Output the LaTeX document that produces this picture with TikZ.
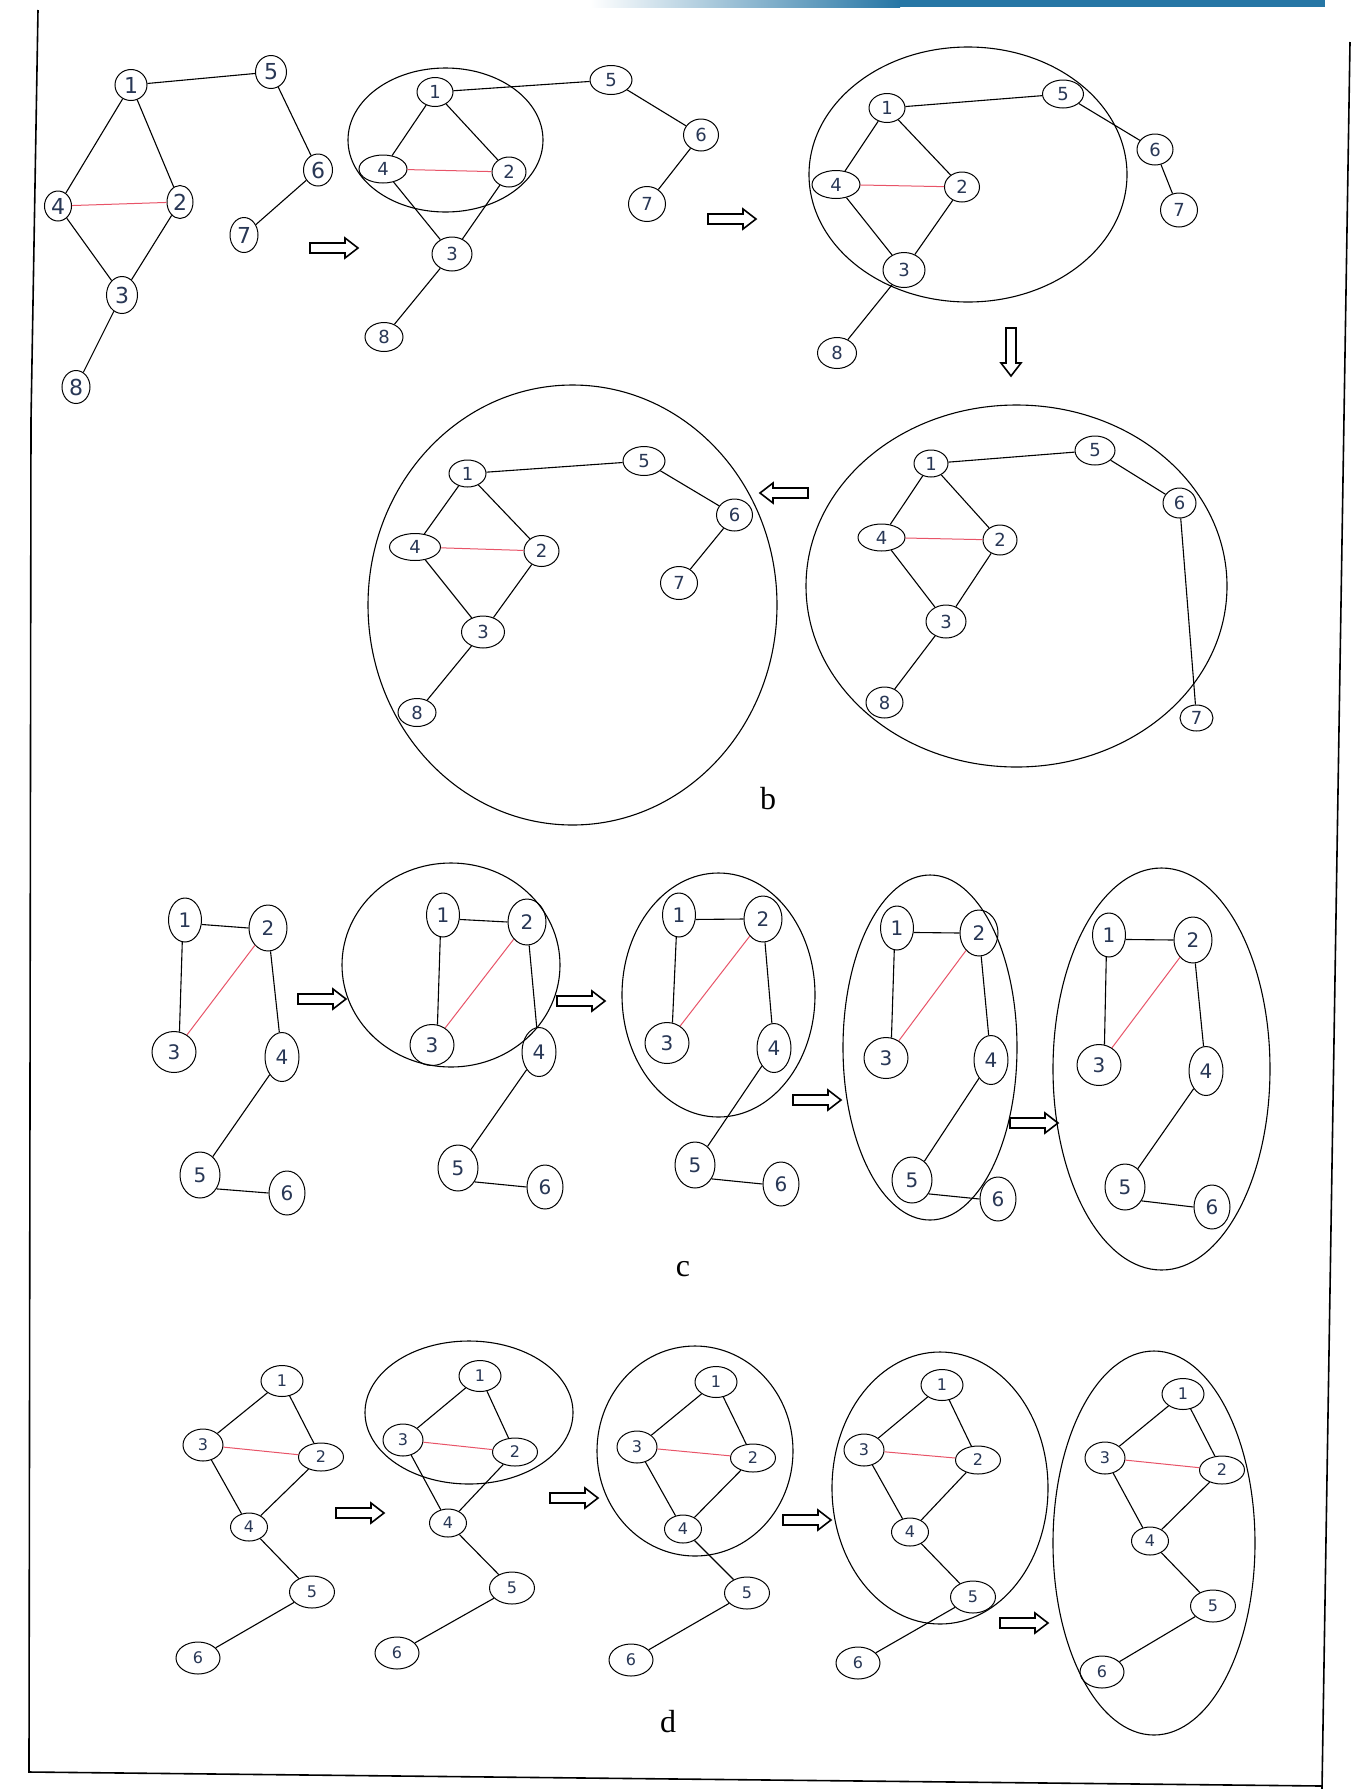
\documentclass[tikz,border=0pt]{standalone}
\usepackage{fontspec}
\usetikzlibrary{shapes.geometric}
\newfontfamily\labfont{DejaVu Sans}
\newfontfamily\capfont{Liberation Serif}
\definecolor{labc}{RGB}{40,55,85}
\definecolor{redc}{RGB}{232,84,104}
\definecolor{barblue}{RGB}{38,118,165}
\tikzset{
 vtx/.style={draw, ellipse, inner sep=0pt, line width=1pt, text=labc},
 lnk/.style={line width=1.1pt},
 rlnk/.style={line width=1pt, draw=redc},
 grp/.style={line width=1.1pt},
 brd/.style={line width=1.6pt},
 plab/.style={inner sep=0pt, font=\capfont\fontsize{32}{36}\selectfont},
 blockarr/.pic={\draw[line width=1.6pt, line join=miter] (0,-5) -- (35,-5) -- (35,-10) -- (48,0) -- (35,10) -- (35,5) -- (0,5) -- cycle;},
}
\newcommand\V[5]{\node[vtx,minimum width=#3,minimum height=#4] (#1) at (#2) {#5};}
\newcommand\EdgesEight[1]{%
 \draw[lnk] (#11)--(#15) (#11)--(#14) (#11)--(#12) (#14)--(#13) (#12)--(#13) (#13)--(#18) (#15)--(#16) (#16)--(#17);
 \draw[rlnk] (#14)--(#12);}
\newcommand\EdgesC[1]{%
 \draw[lnk] (#11.-15)--(#12.west) (#11.-97)--(#13.75) (#12)--(#14) (#14)--(#15) (#15.-40)--(#16.west);
 \draw[rlnk] (#13)--(#12);}
\newcommand\EdgesD[1]{%
 \draw[lnk] (#11)--(#13) (#11)--(#12) (#13)--(#14) (#12)--(#14) (#14)--(#15) (#15)--(#16);
 \draw[rlnk] (#13)--(#12);}
\newcommand\GC[7]{% prefix, six centres
 \V{#11}{#2}{33}{44}{1}
 \V{#12}{#3}{38}{46}{2}
 \V{#13}{#4}{44}{41}{3}
 \V{#14}{#5}{34}{49}{4}
 \V{#15}{#6}{40}{46}{5}
 \V{#16}{#7}{36}{44}{6}
 \EdgesC{#1}}
\newcommand\GD[7]{% prefix, six centres (1,3,2,4,5,6)
 \V{#11}{#2}{42}{31}{1}
 \V{#13}{#3}{40}{32}{3}
 \V{#12}{#4}{45}{28}{2}
 \V{#14}{#5}{37}{28}{4}
 \V{#15}{#6}{45}{32}{5}
 \V{#16}{#7}{44}{32}{6}
 \EdgesD{#1}}
\begin{document}
\begin{tikzpicture}[x=1pt,y=-1pt]
\useasboundingbox (0,0) rectangle (1351,1789);
\fill[white] (0,0) rectangle (1351,1789);
% page frame
\shade[left color=white,right color=barblue] (590,0) rectangle (900,7);
\fill[barblue] (899,0) rectangle (1325,7);
\draw[brd] (38,10) -- (31,420) -- (29,1772) -- (1322,1786);
\draw[brd] (1350,42) -- (1322,1789);

% ---------- top row, graph 1
\begin{scope}[vtx/.append style={font=\labfont\fontsize{22}{22}\selectfont}]
\V{A1}{131,85}{32}{31}{1}
\V{A5}{271,72}{31}{33}{5}
\V{A4}{58,206}{27}{30}{4}
\V{A2}{180,202}{26}{33}{2}
\V{A6}{318,170}{29}{32}{6}
\V{A7}{244,235}{28}{35}{7}
\V{A3}{122,295}{31}{37}{3}
\V{A8}{76,387}{28}{33}{8}
\EdgesEight{A}
\end{scope}
\pic at (310,248) {blockarr};

\begin{scope}[vtx/.append style={font=\labfont\fontsize{18}{18}\selectfont}]
% ---------- top row, graph 2
\draw[grp] (445.5,140) ellipse [x radius=97.5, y radius=72];
\V{B1}{435,92}{36}{29}{1}
\V{B5}{611,80}{42}{29}{5}
\V{B6}{701,135}{35}{32}{6}
\V{B7}{647,204}{37}{35}{7}
\V{B4}{383,169}{48}{28}{4}
\V{B2}{509,172}{34}{30}{2}
\V{B3}{452,254}{40}{34}{3}
\V{B8}{384,337}{38}{29}{8}
\EdgesEight{B}
% ---------- top row, graph 3
\draw[grp] (968,174.5) ellipse [x radius=159, y radius=127.5];
\V{C1}{887,108}{36}{29}{1}
\V{C5}{1063,94}{41}{28}{5}
\V{C6}{1155,149.5}{36}{31}{6}
\V{C7}{1179,210}{37}{34}{7}
\V{C4}{836,184.5}{48}{28}{4}
\V{C2}{962,187}{35}{30}{2}
\V{C3}{904,270}{42}{35}{3}
\V{C8}{837,353}{39}{31}{8}
\EdgesEight{C}
% ---------- row b, left
\draw[grp] (572.5,605) ellipse [x radius=204.5, y radius=220];
\V{D1}{467.5,473.5}{37}{27}{1}
\V{D5}{644,461}{42}{29}{5}
\V{D6}{734.5,515}{36}{32}{6}
\V{D7}{679,583}{37}{33}{7}
\V{D4}{415,547}{51}{27}{4}
\V{D2}{541.5,551}{35}{31}{2}
\V{D3}{483,632}{43}{32}{3}
\V{D8}{417,712.5}{38}{28}{8}
\EdgesEight{D}
% ---------- row b, right
\draw[grp] (1016.5,586) ellipse [x radius=210.5, y radius=181];
\V{E1}{931,463.5}{34}{27}{1}
\V{E5}{1095,450.5}{40}{29}{5}
\V{E6}{1179.5,503}{33}{30}{6}
\V{E7}{1196.5,718}{33}{26}{7}
\V{E4}{881.5,537.5}{47}{27}{4}
\V{E2}{1000,540}{34}{30}{2}
\V{E3}{946,621.5}{40}{33}{3}
\V{E8}{884.5,702.5}{37}{31}{8}
\EdgesEight{E}
\end{scope}
\pic at (708,219) {blockarr};
\pic[rotate=-90] at (1011,328) {blockarr};
\pic[rotate=180] at (808,493) {blockarr};
\node[plab] (lb) at (768,799) {b};

% ---------- panel c
\begin{scope}[vtx/.append style={font=\labfont\fontsize{20}{20}\selectfont}]
\GC{P}{185,920}{268,928}{174,1052}{282,1057}{200,1175}{287,1193}
\draw[grp] (451,965) ellipse [x radius=109, y radius=102];
\GC{Q}{443,915}{527,922}{432,1045}{539,1052}{458,1168}{545,1187}
\draw[grp] (718.5,995) ellipse [x radius=96.5, y radius=122];
\GC{R}{679,915}{763,919}{667,1043}{774,1048}{695,1165}{781,1184}
\draw[grp] (930,1047.5) ellipse [x radius=87, y radius=172.5];
\GC{S}{897,928}{979,933}{886,1058}{991,1060}{912,1180}{998,1199}
\draw[grp] (1161.5,1069) ellipse [x radius=108.5, y radius=201];
\GC{T}{1109,935}{1193,940}{1099,1065}{1206,1071}{1125,1187}{1212,1207}
\end{scope}
\pic at (298,999) {blockarr};
\pic at (557,1001) {blockarr};
\pic at (793,1100) {blockarr};
\pic at (1010,1123) {blockarr};
\node[plab] (lc) at (683,1269) {c};

% ---------- panel d
\begin{scope}[vtx/.append style={font=\labfont\fontsize{16}{16}\selectfont}]
\GD{U}{282,1381}{203,1445}{321,1457}{249,1527}{312,1592}{198,1658}
\draw[grp] (469,1412.5) ellipse [x radius=104, y radius=71.5];
\GD{V}{480,1376}{403,1440}{515,1452}{448,1523}{512,1588}{397,1653}
\draw[grp] (695,1451) ellipse [x radius=98, y radius=105];
\GD{W}{716,1382}{637,1447}{753,1458}{683,1529}{747,1593}{631,1660}
\draw[grp] (940,1488) ellipse [x radius=108, y radius=136];
\GD{X}{942,1385}{864,1450}{978,1460}{910,1532}{973,1597}{858,1663}
\draw[grp] (1154,1543) ellipse [x radius=101, y radius=192];
\GD{Y}{1183,1394}{1105,1458}{1222,1470}{1150,1541}{1213,1606}{1102,1672}
\end{scope}
\pic at (336,1513) {blockarr};
\pic at (550,1498) {blockarr};
\pic at (783,1520) {blockarr};
\pic at (1000,1623) {blockarr};
\node[plab] (ld) at (668,1722) {d};
\end{tikzpicture}
\end{document}
